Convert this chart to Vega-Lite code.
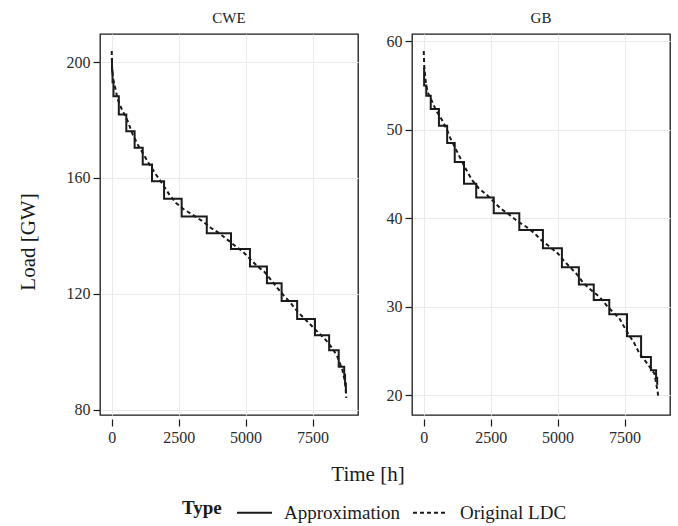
{
  "$schema": "https://vega.github.io/schema/vega-lite/v6.json",
  "background": "white",
  "padding": {"left": 18, "top": 11, "right": 5, "bottom": 5},
  "title": {"text": "Load [GW]", "orient": "left", "anchor": "middle", "font": "Liberation Serif", "fontSize": 21, "fontWeight": "normal", "color": "#1a1a1a", "offset": 26, "dx": 25},
  "datasets": {
    "ldc": [
      {"region": "CWE", "Type": "Approximation", "hour": 0, "load": 201},
      {"region": "CWE", "Type": "Approximation", "hour": 10, "load": 197},
      {"region": "CWE", "Type": "Approximation", "hour": 30, "load": 193},
      {"region": "CWE", "Type": "Approximation", "hour": 65, "load": 188.2},
      {"region": "CWE", "Type": "Approximation", "hour": 265, "load": 181.9},
      {"region": "CWE", "Type": "Approximation", "hour": 545, "load": 176.1},
      {"region": "CWE", "Type": "Approximation", "hour": 855, "load": 170.4},
      {"region": "CWE", "Type": "Approximation", "hour": 1158, "load": 164.6},
      {"region": "CWE", "Type": "Approximation", "hour": 1505, "load": 158.8},
      {"region": "CWE", "Type": "Approximation", "hour": 1955, "load": 152.8},
      {"region": "CWE", "Type": "Approximation", "hour": 2612, "load": 146.7},
      {"region": "CWE", "Type": "Approximation", "hour": 3550, "load": 140.9},
      {"region": "CWE", "Type": "Approximation", "hour": 4455, "load": 135.4},
      {"region": "CWE", "Type": "Approximation", "hour": 5163, "load": 129.4},
      {"region": "CWE", "Type": "Approximation", "hour": 5797, "load": 123.6},
      {"region": "CWE", "Type": "Approximation", "hour": 6345, "load": 117.5},
      {"region": "CWE", "Type": "Approximation", "hour": 6925, "load": 111.3},
      {"region": "CWE", "Type": "Approximation", "hour": 7590, "load": 105.7},
      {"region": "CWE", "Type": "Approximation", "hour": 8120, "load": 100.5},
      {"region": "CWE", "Type": "Approximation", "hour": 8478, "load": 94.8},
      {"region": "CWE", "Type": "Approximation", "hour": 8683, "load": 92.0},
      {"region": "CWE", "Type": "Approximation", "hour": 8715, "load": 89.0},
      {"region": "CWE", "Type": "Approximation", "hour": 8745, "load": 86.1},
      {"region": "CWE", "Type": "Approximation", "hour": 8760, "load": 86.1},
      {"region": "CWE", "Type": "Original LDC", "hour": 0, "load": 203.8},
      {"region": "CWE", "Type": "Original LDC", "hour": 10, "load": 199},
      {"region": "CWE", "Type": "Original LDC", "hour": 30, "load": 196},
      {"region": "CWE", "Type": "Original LDC", "hour": 60, "load": 194},
      {"region": "CWE", "Type": "Original LDC", "hour": 100, "load": 192.3},
      {"region": "CWE", "Type": "Original LDC", "hour": 224, "load": 187.1},
      {"region": "CWE", "Type": "Original LDC", "hour": 351, "load": 184.2},
      {"region": "CWE", "Type": "Original LDC", "hour": 597, "load": 179.6},
      {"region": "CWE", "Type": "Original LDC", "hour": 784, "load": 175.0},
      {"region": "CWE", "Type": "Original LDC", "hour": 970, "load": 171.5},
      {"region": "CWE", "Type": "Original LDC", "hour": 1220, "load": 167.6},
      {"region": "CWE", "Type": "Original LDC", "hour": 1407, "load": 164.6},
      {"region": "CWE", "Type": "Original LDC", "hour": 1657, "load": 161.1},
      {"region": "CWE", "Type": "Original LDC", "hour": 1843, "load": 158.6},
      {"region": "CWE", "Type": "Original LDC", "hour": 2153, "load": 154.2},
      {"region": "CWE", "Type": "Original LDC", "hour": 2403, "load": 151.3},
      {"region": "CWE", "Type": "Original LDC", "hour": 2712, "load": 149.0},
      {"region": "CWE", "Type": "Original LDC", "hour": 3086, "load": 146.9},
      {"region": "CWE", "Type": "Original LDC", "hour": 3395, "load": 145.0},
      {"region": "CWE", "Type": "Original LDC", "hour": 3709, "load": 142.7},
      {"region": "CWE", "Type": "Original LDC", "hour": 4018, "load": 140.9},
      {"region": "CWE", "Type": "Original LDC", "hour": 4328, "load": 138.6},
      {"region": "CWE", "Type": "Original LDC", "hour": 4641, "load": 136.3},
      {"region": "CWE", "Type": "Original LDC", "hour": 4888, "load": 134.6},
      {"region": "CWE", "Type": "Original LDC", "hour": 5201, "load": 131.7},
      {"region": "CWE", "Type": "Original LDC", "hour": 5447, "load": 129.4},
      {"region": "CWE", "Type": "Original LDC", "hour": 5697, "load": 127.6},
      {"region": "CWE", "Type": "Original LDC", "hour": 5947, "load": 124.8},
      {"region": "CWE", "Type": "Original LDC", "hour": 6193, "load": 121.9},
      {"region": "CWE", "Type": "Original LDC", "hour": 6443, "load": 119.2},
      {"region": "CWE", "Type": "Original LDC", "hour": 6693, "load": 116.7},
      {"region": "CWE", "Type": "Original LDC", "hour": 6940, "load": 113.8},
      {"region": "CWE", "Type": "Original LDC", "hour": 7253, "load": 110.9},
      {"region": "CWE", "Type": "Original LDC", "hour": 7499, "load": 108.6},
      {"region": "CWE", "Type": "Original LDC", "hour": 7749, "load": 106.3},
      {"region": "CWE", "Type": "Original LDC", "hour": 7999, "load": 104.0},
      {"region": "CWE", "Type": "Original LDC", "hour": 8246, "load": 101.1},
      {"region": "CWE", "Type": "Original LDC", "hour": 8432, "load": 98.2},
      {"region": "CWE", "Type": "Original LDC", "hour": 8619, "load": 93.6},
      {"region": "CWE", "Type": "Original LDC", "hour": 8700, "load": 90.0},
      {"region": "CWE", "Type": "Original LDC", "hour": 8745, "load": 86.7},
      {"region": "CWE", "Type": "Original LDC", "hour": 8760, "load": 84.0},
      {"region": "GB", "Type": "Approximation", "hour": 0, "load": 57.0},
      {"region": "GB", "Type": "Approximation", "hour": 15, "load": 55.0},
      {"region": "GB", "Type": "Approximation", "hour": 95, "load": 53.85},
      {"region": "GB", "Type": "Approximation", "hour": 262, "load": 52.35},
      {"region": "GB", "Type": "Approximation", "hour": 568, "load": 50.46},
      {"region": "GB", "Type": "Approximation", "hour": 875, "load": 48.5},
      {"region": "GB", "Type": "Approximation", "hour": 1158, "load": 46.35},
      {"region": "GB", "Type": "Approximation", "hour": 1505, "load": 43.89},
      {"region": "GB", "Type": "Approximation", "hour": 1960, "load": 42.34},
      {"region": "GB", "Type": "Approximation", "hour": 2615, "load": 40.57},
      {"region": "GB", "Type": "Approximation", "hour": 3570, "load": 38.68},
      {"region": "GB", "Type": "Approximation", "hour": 4452, "load": 36.61},
      {"region": "GB", "Type": "Approximation", "hour": 5161, "load": 34.46},
      {"region": "GB", "Type": "Approximation", "hour": 5795, "load": 32.53},
      {"region": "GB", "Type": "Approximation", "hour": 6350, "load": 30.76},
      {"region": "GB", "Type": "Approximation", "hour": 6930, "load": 29.17},
      {"region": "GB", "Type": "Approximation", "hour": 7592, "load": 26.68},
      {"region": "GB", "Type": "Approximation", "hour": 8118, "load": 24.34},
      {"region": "GB", "Type": "Approximation", "hour": 8485, "load": 22.83},
      {"region": "GB", "Type": "Approximation", "hour": 8678, "load": 22.0},
      {"region": "GB", "Type": "Approximation", "hour": 8720, "load": 21.3},
      {"region": "GB", "Type": "Approximation", "hour": 8760, "load": 21.3},
      {"region": "GB", "Type": "Original LDC", "hour": 0, "load": 58.9},
      {"region": "GB", "Type": "Original LDC", "hour": 22, "load": 57.0},
      {"region": "GB", "Type": "Original LDC", "hour": 86, "load": 55.1},
      {"region": "GB", "Type": "Original LDC", "hour": 160, "load": 54.16},
      {"region": "GB", "Type": "Original LDC", "hour": 310, "load": 53.21},
      {"region": "GB", "Type": "Original LDC", "hour": 459, "load": 52.2},
      {"region": "GB", "Type": "Original LDC", "hour": 683, "load": 51.1},
      {"region": "GB", "Type": "Original LDC", "hour": 869, "load": 50.0},
      {"region": "GB", "Type": "Original LDC", "hour": 992, "load": 49.06},
      {"region": "GB", "Type": "Original LDC", "hour": 1179, "load": 47.93},
      {"region": "GB", "Type": "Original LDC", "hour": 1365, "load": 46.8},
      {"region": "GB", "Type": "Original LDC", "hour": 1552, "load": 45.67},
      {"region": "GB", "Type": "Original LDC", "hour": 1802, "load": 44.34},
      {"region": "GB", "Type": "Original LDC", "hour": 2052, "load": 43.4},
      {"region": "GB", "Type": "Original LDC", "hour": 2361, "load": 42.64},
      {"region": "GB", "Type": "Original LDC", "hour": 2857, "load": 41.14},
      {"region": "GB", "Type": "Original LDC", "hour": 3208, "load": 40.38},
      {"region": "GB", "Type": "Original LDC", "hour": 3517, "load": 39.62},
      {"region": "GB", "Type": "Original LDC", "hour": 3827, "load": 39.05},
      {"region": "GB", "Type": "Original LDC", "hour": 4140, "load": 38.31},
      {"region": "GB", "Type": "Original LDC", "hour": 4386, "load": 37.55},
      {"region": "GB", "Type": "Original LDC", "hour": 4700, "load": 36.79},
      {"region": "GB", "Type": "Original LDC", "hour": 5009, "load": 36.04},
      {"region": "GB", "Type": "Original LDC", "hour": 5233, "load": 35.21},
      {"region": "GB", "Type": "Original LDC", "hour": 5446, "load": 34.53},
      {"region": "GB", "Type": "Original LDC", "hour": 5692, "load": 33.78},
      {"region": "GB", "Type": "Original LDC", "hour": 5960, "load": 32.7},
      {"region": "GB", "Type": "Original LDC", "hour": 6251, "load": 31.89},
      {"region": "GB", "Type": "Original LDC", "hour": 6565, "load": 31.13},
      {"region": "GB", "Type": "Original LDC", "hour": 6874, "load": 30.0},
      {"region": "GB", "Type": "Original LDC", "hour": 7311, "load": 28.68},
      {"region": "GB", "Type": "Original LDC", "hour": 7557, "load": 27.36},
      {"region": "GB", "Type": "Original LDC", "hour": 7870, "load": 25.85},
      {"region": "GB", "Type": "Original LDC", "hour": 8057, "load": 24.72},
      {"region": "GB", "Type": "Original LDC", "hour": 8303, "load": 23.77},
      {"region": "GB", "Type": "Original LDC", "hour": 8616, "load": 22.46},
      {"region": "GB", "Type": "Original LDC", "hour": 8739, "load": 20.4},
      {"region": "GB", "Type": "Original LDC", "hour": 8760, "load": 19.7}
    ]
  },
  "data": {"name": "ldc"},
  "facet": {
    "column": {
      "field": "region",
      "type": "nominal",
      "sort": ["CWE", "GB"],
      "header": {
        "title": "Time [h]",
        "titleOrient": "bottom",
        "labelOrient": "top",
        "labelFont": "Liberation Serif",
        "labelFontSize": 15,
        "labelColor": "#1a1a1a",
        "labelPadding": 6,
        "titleFont": "Liberation Serif",
        "titleFontSize": 21,
        "titleFontWeight": "normal",
        "titleColor": "#1a1a1a",
        "titlePadding": 9
      }
    }
  },
  "spacing": 26,
  "spec": {
    "width": 258,
    "height": 381,
    "layer": [
      {
        "transform": [{"filter": "datum.Type === 'Approximation'"}],
        "mark": {"type": "line", "interpolate": "step-after", "strokeWidth": 2, "color": "#1a1a1a"},
        "encoding": {
          "x": {"field": "hour", "type": "quantitative", "scale": {"domain": [-438, 9198], "nice": false}, "axis": {"values": [0, 2500, 5000, 7500], "format": "d", "title": null, "labelFont": "Liberation Serif", "labelFontSize": 16}},
          "y": {"field": "load", "type": "quantitative", "scale": {"zero": false, "nice": false, "padding": 17}, "axis": {"values": [20, 30, 40, 50, 60, 80, 120, 160, 200], "title": null, "labelFont": "Liberation Serif", "labelFontSize": 16}},
          "strokeDash": {"field": "Type", "type": "nominal", "scale": {"domain": ["Approximation", "Original LDC"], "range": [[1, 0], [4, 3]]}, "title": "Type", "legend": {"orient": "none", "legendX": 82, "legendY": 460, "direction": "horizontal", "titleOrient": "left", "titleAnchor": "middle", "titleBaseline": "middle"}}
        }
      },
      {
        "transform": [{"filter": "datum.Type === 'Original LDC'"}],
        "mark": {"type": "line", "strokeWidth": 2, "color": "#1a1a1a"},
        "encoding": {
          "x": {"field": "hour", "type": "quantitative"},
          "y": {"field": "load", "type": "quantitative"},
          "strokeDash": {"field": "Type", "type": "nominal"}
        }
      }
    ]
  },
  "resolve": {"scale": {"y": "independent"}, "axis": {"y": "independent"}},
  "config": {
    "font": "Liberation Serif",
    "view": {"stroke": "#1a1a1a", "strokeWidth": 1.3},
    "axis": {
      "domain": false,
      "grid": true,
      "gridColor": "#EBEBEB",
      "gridWidth": 1,
      "ticks": true,
      "tickColor": "#1a1a1a",
      "tickSize": 7,
      "tickWidth": 1.2,
      "labelFont": "Liberation Serif",
      "labelFontSize": 16,
      "labelColor": "#2b2b2b",
      "labelPadding": 3
    },
    "legend": {
      "titleFont": "Liberation Serif",
      "titleFontSize": 19,
      "titleFontWeight": "bold",
      "titleColor": "#1a1a1a",
      "titlePadding": 14,
      "labelFont": "Liberation Serif",
      "labelFontSize": 19,
      "labelColor": "#1a1a1a",
      "symbolType": "stroke",
      "symbolSize": 1225,
      "symbolStrokeWidth": 2,
      "symbolStrokeColor": "#1a1a1a",
      "columnPadding": 8,
      "labelOffset": 11
    }
  }
}
